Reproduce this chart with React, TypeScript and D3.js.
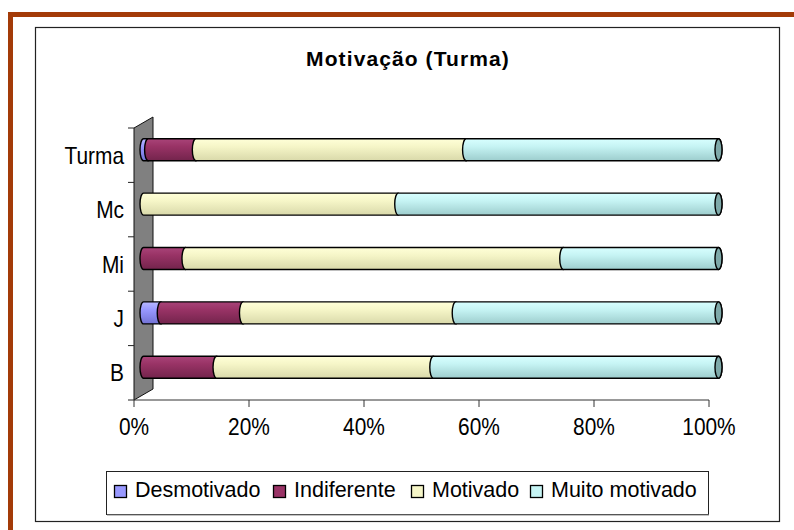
import React from 'react';
import * as d3 from 'd3';

// categories from bottom to top
const categories = ['B', 'J', 'Mi', 'Mc', 'Turma'];
const seriesNames = ['Desmotivado', 'Indiferente', 'Motivado', 'Muito motivado'];
const desmotivado = [0, 3.0, 0, 0, 0.8];
const indiferente = [12.7, 14.3, 7.3, 0, 8.3];
const motivado = [37.7, 37.0, 65.7, 44.3, 47.0];
const muitoMotivado = [49.6, 45.7, 27.0, 55.7, 43.9];
const xTicks = [0, 20, 40, 60, 80, 100];

const shades = [
  { light: '#B8B8FF', base: '#9999FF', dark: '#7272D4', cap: '#6464B8' },
  { light: '#A94479', base: '#993366', dark: '#73244C', cap: '#5C1C3C' },
  { light: '#FFFFD8', base: '#F6F6C8', dark: '#D9D9AA', cap: '#B4B48C' },
  { light: '#D8FFFF', base: '#C6F4F4', dark: '#9DCDCD', cap: '#7EA9A9' },
];

const FONT = '"Liberation Sans", Arial, sans-serif';

export default function App() {
  const rows = categories.map((c, i) => ({
    cat: c,
    Desmotivado: desmotivado[i],
    Indiferente: indiferente[i],
    Motivado: motivado[i],
    'Muito motivado': muitoMotivado[i],
  }));
  const layers = d3.stack<any>().keys(seriesNames)(rows);

  const x = d3.scaleLinear().domain([0, 100]).range([134, 709]);
  const y = d3.scaleBand().domain(categories).range([400, 128]);
  const depthX = 19;
  const depthY = 11;
  const offX = depthX / 2;
  const offY = depthY / 2;
  const barH = 22;
  const rx = 3.5;
  const ry = barH / 2;

  const seg = (x0: number, x1: number, t: number) => {
    const b = t + barH;
    return `M${x0},${t} L${x1},${t} A${rx},${ry} 0 0 1 ${x1},${b} L${x0},${b} A${rx},${ry} 0 0 1 ${x0},${t} Z`;
  };
  const barTop = (c: string) => (y(c) as number) + (y.bandwidth() - barH) / 2 - offY;

  const legendX = [114, 273, 411, 530];
  const axisBottom = 400;
  const axisTop = 128;

  return (
    <svg width={794} height={530} style={{ position: 'absolute', left: 0, top: 0, background: '#fff' }}>
      <defs>
        {shades.map((s, i) => (
          <linearGradient key={i} id={`g${i}`} x1="0" y1="0" x2="0" y2="1">
            <stop offset="0%" stopColor={s.light} />
            <stop offset="35%" stopColor={s.base} />
            <stop offset="100%" stopColor={s.dark} />
          </linearGradient>
        ))}
      </defs>

      {/* outer brown frame */}
      <rect x={8} y={12} width={786} height={5} fill="#A33B08" />
      <rect x={8} y={12} width={5} height={518} fill="#A33B08" />

      {/* chart area */}
      <rect x={35.5} y={27.5} width={744} height={494} fill="#fff" stroke="#222" strokeWidth={1.2} />

      <text x={408} y={66} textAnchor="middle" fontFamily={FONT} fontWeight="bold" fontSize={21} letterSpacing={1.1}>
        Motivação (Turma)
      </text>

      {/* side wall */}
      <polygon
        points={`${x(0)},${axisTop} ${x(0) + depthX},${axisTop - depthY} ${x(0) + depthX},${axisBottom - depthY} ${x(0)},${axisBottom}`}
        fill="#808080"
        stroke="#111"
        strokeWidth={1}
      />

      {/* category ticks */}
      {d3.range(categories.length + 1).map((i) => {
        const yy = axisTop + (i * (axisBottom - axisTop)) / categories.length;
        return <line key={i} x1={128} x2={x(0)} y1={yy} y2={yy} stroke="#222" strokeWidth={1} />;
      })}

      {/* x axis */}
      <line x1={x(0)} x2={x(100)} y1={axisBottom} y2={axisBottom} stroke="#333" strokeWidth={1} />
      {xTicks.map((t) => (
        <g key={t}>
          <line x1={x(t)} x2={x(t)} y1={axisBottom} y2={axisBottom + 7} stroke="#333" strokeWidth={1} />
          <g transform={`translate(${x(t)},435) scale(0.87,1)`}>
            <text textAnchor="middle" fontFamily={FONT} fontSize={24} fill="#000">
              {t}%
            </text>
          </g>
        </g>
      ))}

      {/* category labels */}
      {categories.map((c) => (
        <g key={c} transform={`translate(124,${(y(c) as number) + y.bandwidth() / 2 + 8.6}) scale(0.87,1)`}>
          <text textAnchor="end" fontFamily={FONT} fontSize={24} fill="#000">
            {c}
          </text>
        </g>
      ))}

      {/* cylinder bars */}
      {layers.map((layer, li) => (
        <g key={li}>
          {layer.map((d: any) => {
            if (d[1] - d[0] <= 0) return null;
            const t = barTop(d.data.cat);
            return (
              <path
                key={d.data.cat}
                d={seg(x(d[0]) + offX, x(d[1]) + offX, t)}
                fill={`url(#g${li})`}
                stroke="#000"
                strokeWidth={1.4}
              />
            );
          })}
        </g>
      ))}
      {/* right end caps */}
      {layers[layers.length - 1].map((d: any) => (
        <ellipse
          key={d.data.cat}
          cx={x(d[1]) + offX}
          cy={barTop(d.data.cat) + ry}
          rx={rx}
          ry={ry}
          fill={shades[shades.length - 1].cap}
          stroke="#000"
          strokeWidth={1.4}
        />
      ))}

      {/* legend */}
      <rect x={106.5} y={471.5} width={602} height={43} fill="#fff" stroke="#222" strokeWidth={1} />
      <line x1={107} x2={709} y1={515} y2={515} stroke="#888" strokeWidth={1} />
      {seriesNames.map((s, i) => (
        <g key={s}>
          <rect x={legendX[i] + 0.5} y={485.5} width={12} height={12} fill={shades[i].base} stroke="#000" strokeWidth={1.3} />
          <text x={legendX[i] + 21} y={497} fontFamily={FONT} fontSize={21.5} fill="#000">
            {s}
          </text>
        </g>
      ))}
    </svg>
  );
}
